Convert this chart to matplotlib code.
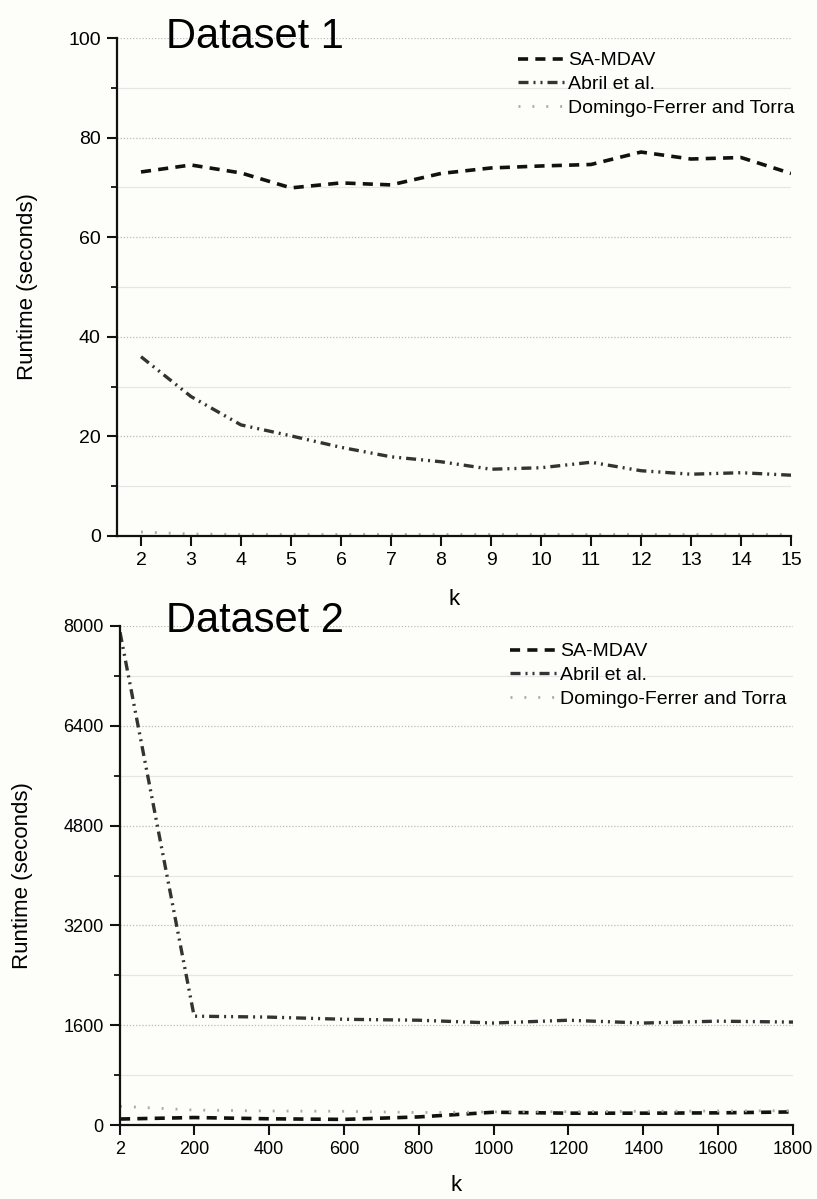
import numpy as np
import matplotlib
matplotlib.use("Agg")
import matplotlib.pyplot as plt
from matplotlib.ticker import MultipleLocator

plt.rcParams['font.family'] = ['Liberation Sans', 'DejaVu Sans']

# Dataset 1 (runtime in seconds vs k)
k1 = [2, 3, 4, 5, 6, 7, 8, 9, 10, 11, 12, 13, 14, 15]
sa_mdav_1 = [73.1, 74.5, 72.9, 69.9, 70.9, 70.5, 72.8, 73.9, 74.3, 74.6, 77.1, 75.7, 76.0, 72.8]
abril_1 = [36.0, 28.0, 22.3, 20.1, 17.8, 15.9, 14.9, 13.4, 13.7, 14.8, 13.1, 12.4, 12.7, 12.2]
dft_1 = [0.8, 0.4, 0.3, 0.3, 0.3, 0.3, 0.3, 0.3, 0.3, 0.3, 0.3, 0.3, 0.3, 0.3]

# Dataset 2
k2 = [2, 200, 400, 600, 800, 1000, 1200, 1400, 1600, 1800]
sa_mdav_2 = [96, 120, 100, 90, 130, 205, 190, 190, 195, 210]
abril_2 = [7900, 1745, 1730, 1695, 1680, 1635, 1680, 1635, 1665, 1650]
dft_2 = [300, 240, 225, 220, 200, 210, 215, 220, 225, 230]

labels = ['SA-MDAV', 'Abril et al.', 'Domingo-Ferrer and Torra']

bg = '#fdfdf9'
fig = plt.figure(figsize=(8.17, 11.99), dpi=100, facecolor=bg)

ax1 = fig.add_axes([0.1432, 0.5530, 0.8250, 0.4153])
ax2 = fig.add_axes([0.1469, 0.0617, 0.8237, 0.4162])

styles = [
    dict(color='#111111', lw=2.6, dashes=(2.8, 2.0)),
    dict(color='#333333', lw=2.4, dashes=(3.0, 1.5, 0.6, 1.5, 0.6, 1.5)),
    dict(color='#aaaaaa', lw=2.0, dashes=(0.7, 4.3)),
]

def style_axes(ax, tsize):
    ax.set_facecolor(bg)
    for s in ['top', 'right']:
        ax.spines[s].set_visible(False)
    for s in ['left', 'bottom']:
        ax.spines[s].set_linewidth(1.6)
        ax.spines[s].set_color('#111111')
    ax.tick_params(axis='both', which='major', direction='out', length=7.2, width=1.5,
                   labelsize=tsize, color='#111111', pad=4.5)
    ax.tick_params(axis='y', which='minor', direction='out', length=4, width=1.3, color='#111111')
    ax.tick_params(axis='x', which='minor', length=0)
    ax.grid(True, which='major', axis='y', color='#bbbbbb', lw=0.9, ls=(0, (1, 1.5)))
    ax.grid(True, which='minor', axis='y', color='#e6e6e6', lw=0.9, ls='-')
    ax.set_axisbelow(True)

leg_kw = dict(frameon=False, fontsize=14, handlelength=2.4, handletextpad=0.2,
              labelspacing=0.32, borderpad=0)

# top panel
style_axes(ax1, 14)
for y, st, lab in zip([sa_mdav_1, abril_1, dft_1], styles, labels):
    ax1.plot(k1, y, label=lab, **st)
ax1.set_xlim(1.52, 15)
ax1.set_ylim(0, 100)
ax1.set_xticks(k1)
ax1.yaxis.set_major_locator(MultipleLocator(20))
ax1.yaxis.set_minor_locator(MultipleLocator(10))
ax1.set_xlabel('k', fontsize=16, labelpad=14)
ax1.set_ylabel('Runtime (seconds)', fontsize=16)
ax1.yaxis.set_label_coords(-0.117, 0.5)
ax1.legend(loc='upper left', bbox_to_anchor=(508 / 817, 1 - 42 / 1199),
           bbox_transform=fig.transFigure, **leg_kw)
fig.text(166 / 817, 1 - 37 / 1199, 'Dataset 1', fontsize=30, va='center', ha='left')

# bottom panel
style_axes(ax2, 13)
for y, st, lab in zip([sa_mdav_2, abril_2, dft_2], styles, labels):
    ax2.plot(k2, y, label=lab, **st)
ax2.set_xlim(2, 1800)
ax2.set_ylim(0, 8000)
ax2.set_xticks(k2)
ax2.yaxis.set_major_locator(MultipleLocator(1600))
ax2.yaxis.set_minor_locator(MultipleLocator(800))
ax2.set_xlabel('k', fontsize=16, labelpad=12)
ax2.set_ylabel('Runtime (seconds)', fontsize=16)
ax2.yaxis.set_label_coords(-0.129, 0.5)
ax2.legend(loc='upper left', bbox_to_anchor=(500 / 817, 1 - 633 / 1199),
           bbox_transform=fig.transFigure, **leg_kw)
fig.text(166 / 817, 1 - 621 / 1199, 'Dataset 2', fontsize=30, va='center', ha='left')

fig.savefig('out.png', dpi=100, facecolor=bg)
